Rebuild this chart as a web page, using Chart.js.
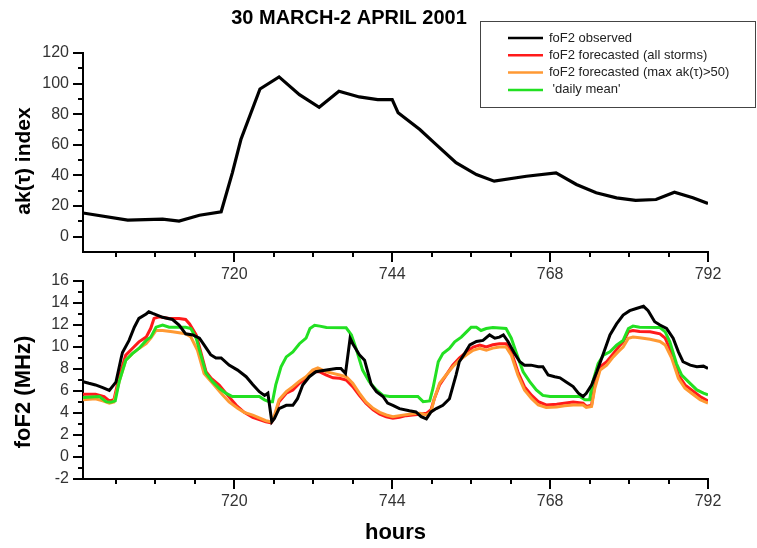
<!DOCTYPE html>
<html><head><meta charset="utf-8">
<script src="https://cdn.jsdelivr.net/npm/chart.js@4/dist/chart.umd.min.js"></script>
<style>
html,body{margin:0;padding:0;background:#fff;width:757px;height:548px;overflow:hidden}
canvas{position:absolute;left:0}
#c1{top:0}
#c2{top:262px}
</style></head><body>
<canvas id="c1" width="757" height="290"></canvas>
<canvas id="c2" width="757" height="286"></canvas>
<script>
// ---------- data ----------
const titleText = '30 MARCH-2 APRIL 2001';
const akTitle = 'ak(\u03C4) index';
const foTitle = 'foF2 (MHz)';
const xTitle = 'hours';

const hourLabels = [720, 744, 768, 792];
const akLabels = [0, 20, 40, 60, 80, 100, 120];
const foLabels = [-2, 0, 2, 4, 6, 8, 10, 12, 14, 16];

const seriesLabels = ['foF2 observed', 'foF2 forecasted (all storms)', 'foF2 forecasted (max ak(\u03C4)>50)', " 'daily mean'"];
const seriesColors = ['#000000', '#ff1a1a', '#ff9933', '#22e022'];

const akHours = [697,703.8,709.1,711.6,714.7,718,719.7,721,723.9,726.8,729.9,732.9,735.9,739,741.8,744,744.9,748.2,750.4,753.7,756.8,759.5,764.4,768.9,772,775,778.1,781,784.1,786.9,789.7,792];
const akValues = [15.5,10.8,11.5,10.2,14,16.3,41.7,63.5,96.5,104.4,92.8,84.5,95,91.3,89.6,89.6,80.9,70,61.3,48.3,40.6,36.3,39.5,41.7,34.1,28.7,25.4,23.7,24.3,29.1,25.4,21.7];

const obsHours = [697.0,697.9,698.9,700.0,701.0,702.0,702.8,703.0,704.0,704.8,
705.5,706.6,707.0,707.6,709.1,710.6,711.6,712.6,713.7,714.7,
715.4,716.4,717.2,718.0,719.2,720.5,721.8,722.8,723.8,724.6,
725.1,725.7,726.1,726.8,727.9,728.9,729.6,730.4,731.4,732.4,
734.0,735.5,736.2,736.9,737.6,738.0,739.0,739.8,740.8,741.6,
742.6,743.3,744.1,745.1,746.6,747.6,748.4,749.2,749.9,750.7,
751.7,752.7,753.7,754.2,755.0,755.8,756.8,757.8,758.8,759.6,
760.3,760.9,761.6,762.6,763.4,764.1,765.1,766.2,766.9,767.7,
768.7,769.5,770.5,771.5,772.3,773.0,773.5,774.3,775.1,776.1,
777.1,778.1,779.1,780.1,781.1,782.2,782.9,783.9,784.7,785.7,
786.7,787.5,788.2,789.3,790.3,791.3,792.0];
const obsValues = [6.85,6.7,6.55,6.3,6.05,6.8,9.0,9.5,10.6,11.8,
12.6,13.0,13.2,13.05,12.7,12.5,12.0,11.2,11.1,10.8,
10.2,9.3,9.0,9.0,8.35,7.9,7.3,6.6,5.94,5.6,
5.8,3.2,3.5,4.4,4.7,4.7,5.3,6.55,7.3,7.75,
7.9,8.05,8.05,7.6,10.8,10.3,9.3,8.8,6.6,5.94,
5.5,4.9,4.7,4.4,4.2,4.1,3.67,3.46,4.1,4.4,
4.7,5.3,7.45,8.66,9.4,10.2,10.5,10.6,11.1,10.8,
10.9,11.1,10.5,9.4,8.66,8.35,8.35,8.2,8.2,7.45,
7.3,7.2,6.8,6.4,5.8,5.5,5.8,6.55,7.75,9.4,
11.1,12.1,12.9,13.3,13.5,13.7,13.3,12.3,12.0,11.7,
10.8,9.56,8.66,8.35,8.2,8.26,8.05];

const allHours = [697.0,698.9,700.2,701.0,701.7,702.5,703.5,704.5,705.5,706.6,
707.3,707.8,708.6,710.1,711.6,712.6,713.2,714.2,714.9,715.7,
716.5,717.7,719.0,720.3,721.5,722.8,723.8,724.8,725.6,726.1,
726.8,727.9,728.9,729.9,730.9,731.9,732.9,734.0,735.0,736.0,
737.0,738.0,739.0,740.0,741.1,742.1,743.1,744.1,745.1,746.1,
747.1,748.2,749.2,749.9,750.4,751.2,752.2,753.2,754.2,755.3,
756.3,757.3,758.3,759.3,760.3,761.3,762.1,763.1,764.1,765.2,
766.2,767.4,769.0,771.5,773.0,773.5,774.3,774.8,775.6,776.6,
777.6,778.4,779.1,779.9,780.6,781.6,783.2,784.7,785.5,786.5,
787.5,788.5,789.5,790.8,792.0];
const allValues = [5.7,5.7,5.5,5.1,5.2,7.3,9.26,9.87,10.47,10.9,
11.7,12.6,12.74,12.6,12.6,12.5,12.1,11.1,9.56,7.75,
7.15,6.55,5.6,4.7,4.06,3.6,3.4,3.2,3.1,3.6,
5.03,5.8,6.1,6.7,7.15,7.75,7.75,7.45,7.2,7.15,
7.0,6.39,5.6,4.9,4.3,3.9,3.66,3.52,3.6,3.76,
3.82,3.88,3.97,4.3,5.3,6.55,7.45,8.35,9.0,9.56,
10.0,10.17,10.0,10.2,10.3,10.3,9.56,7.75,6.39,5.6,
5.03,4.73,4.8,5.0,4.9,4.6,4.7,6.55,8.2,8.66,
9.4,10.0,10.47,11.4,11.5,11.4,11.38,11.2,10.8,9.4,
7.45,6.55,6.1,5.5,5.1];

const maxHours = [697.0,698.9,700.0,701.0,701.7,702.5,703.5,704.5,705.5,706.6,
707.3,708.1,709.1,710.6,712.6,713.4,714.4,715.4,716.7,718.0,
719.2,720.5,721.5,722.8,724.8,725.6,726.1,726.8,727.9,728.9,
729.9,730.9,731.9,732.7,734.0,735.0,736.0,737.0,738.0,739.0,
740.0,741.1,742.1,743.1,744.1,745.1,747.1,748.2,749.2,749.9,
750.4,751.2,752.2,753.2,754.2,755.3,756.3,757.3,758.3,759.3,
760.3,761.3,762.1,763.1,764.1,765.2,766.2,767.4,769.0,770.2,
771.5,773.0,773.5,774.3,774.8,775.6,776.6,777.6,778.4,779.1,
779.9,780.6,781.6,783.2,784.7,785.5,786.5,787.5,788.5,789.5,
790.8,792.0];
const maxValues = [5.2,5.3,5.1,4.9,5.0,6.85,8.8,9.4,9.87,10.3,
10.8,11.5,11.5,11.38,11.2,10.9,9.7,7.6,6.7,5.8,
5.0,4.43,4.06,3.8,3.3,3.2,3.8,5.2,5.94,6.4,
6.9,7.3,7.9,8.1,7.75,7.6,7.45,7.3,6.7,5.8,
5.0,4.43,4.06,3.82,3.66,3.76,3.94,3.97,3.82,4.1,
5.3,6.7,7.45,8.2,8.8,9.3,9.7,9.87,9.7,9.9,
10.0,10.0,9.26,7.45,6.1,5.3,4.73,4.5,4.55,4.65,
4.73,4.73,4.5,4.6,6.25,7.9,8.35,9.1,9.6,10.0,
10.8,10.9,10.84,10.7,10.5,10.17,8.96,7.15,6.25,5.8,
5.2,4.9];

const meanHours = [697.0,699.5,700.5,701.2,701.9,702.5,703.5,704.5,705.5,706.6,
707.3,708.1,709.1,710.1,712.6,713.4,714.2,714.9,715.7,716.7,
717.7,718.7,719.7,723.8,724.6,725.3,725.8,726.3,727.1,727.9,
728.9,729.9,730.9,731.5,732.2,733.0,734.0,737.0,737.8,738.5,
739.5,740.5,741.6,742.6,743.6,747.9,748.7,749.7,750.2,751.0,
751.7,752.7,753.5,754.5,755.3,756.0,756.8,757.5,758.3,759.3,
761.3,762.1,762.9,763.9,764.9,765.9,766.9,768.0,772.5,773.3,
774.0,774.5,775.3,776.1,777.1,778.1,779.1,779.9,780.6,781.6,
784.7,785.5,786.2,787.2,788.0,789.0,790.3,791.3,792.0];
const meanValues = [5.4,5.5,5.03,4.97,5.1,6.85,8.8,9.4,9.87,10.6,
10.9,11.8,12.0,11.8,11.8,11.68,10.8,9.3,7.6,6.85,
6.25,5.8,5.5,5.5,5.2,5.03,5.03,6.55,8.2,9.1,
9.56,10.3,10.8,11.68,11.98,11.9,11.77,11.74,11.1,9.87,
7.9,6.85,6.1,5.6,5.5,5.5,5.03,5.1,6.25,8.66,
9.4,9.87,10.47,10.9,11.38,11.8,11.8,11.5,11.68,11.77,
11.68,10.8,9.4,7.75,6.85,6.1,5.6,5.5,5.5,5.2,
5.2,6.85,8.5,9.26,9.56,10.17,10.6,11.68,11.9,11.8,
11.77,11.38,10.47,8.5,7.45,6.85,6.1,5.8,5.64];

// ---------- helpers ----------
const FONT = '"Liberation Sans", Arial, Helvetica, sans-serif';
const zip = (xs, ys) => xs.map((x, i) => ({x: x, y: ys[i]}));
const range = (a, b, s) => { const r = []; for (let v = a; v <= b + 1e-9; v += s) r.push(v); return r; };
const xTickValues = range(702, 792, 6);
const akTickValues = range(0, 120, 10);
const foTickValues = range(-2, 16, 1);

const tickMarks = {
  id: 'tickMarks',
  afterDraw(chart, args, opts) {
    const ctx = chart.ctx, xs = chart.scales.x, ys = chart.scales.y;
    ctx.save();
    ctx.strokeStyle = '#000';
    ctx.lineWidth = 2;
    xs.ticks.forEach(t => {
      const p = Math.round(xs.getPixelForValue(t.value));
      const len = opts.xMajor.includes(t.value) ? 10 : 5;
      ctx.beginPath(); ctx.moveTo(p, chart.chartArea.bottom); ctx.lineTo(p, chart.chartArea.bottom + len); ctx.stroke();
    });
    ys.ticks.forEach(t => {
      const p = Math.round(ys.getPixelForValue(t.value));
      const len = opts.yMajor.includes(t.value) ? 10 : 5;
      ctx.beginPath(); ctx.moveTo(chart.chartArea.left, p); ctx.lineTo(chart.chartArea.left - len, p); ctx.stroke();
    });
    ctx.restore();
  }
};

const yTitle = {
  id: 'yTitle',
  afterDraw(chart, args, opts) {
    const ctx = chart.ctx;
    ctx.save();
    ctx.translate(opts.x, opts.y);
    ctx.rotate(-Math.PI / 2);
    ctx.font = 'bold ' + opts.size + 'px ' + FONT;
    ctx.fillStyle = '#000';
    ctx.textAlign = 'center';
    ctx.textBaseline = 'alphabetic';
    ctx.fillText(opts.text, 0, 0);
    ctx.restore();
  }
};

const headerAndLegend = {
  id: 'headerAndLegend',
  afterDraw(chart) {
    const ctx = chart.ctx;
    ctx.save();
    ctx.font = 'bold 20px ' + FONT;
    ctx.fillStyle = '#000';
    ctx.textAlign = 'center';
    ctx.textBaseline = 'middle';
    ctx.fillText(titleText, 349, 18);
    // legend box
    ctx.fillStyle = '#fff';
    ctx.fillRect(480.5, 21.5, 275, 86);
    ctx.strokeStyle = '#444';
    ctx.lineWidth = 1;
    ctx.strokeRect(480.5, 21.5, 275, 86);
    ctx.font = '13px ' + FONT;
    ctx.textAlign = 'left';
    seriesLabels.forEach((lab, i) => {
      const y = 38 + i * 17.3;
      ctx.strokeStyle = seriesColors[i];
      ctx.lineWidth = 2.5;
      ctx.beginPath(); ctx.moveTo(508, y); ctx.lineTo(543, y); ctx.stroke();
      ctx.fillStyle = '#222';
      ctx.fillText(lab, 549, y);
    });
    ctx.restore();
  }
};

const tickFont = {size: 16, family: FONT};
function xAxis(height, pad, withTitle) {
  return {
    type: 'linear', min: 697, max: 792,
    afterBuildTicks: s => { s.ticks = xTickValues.map(v => ({value: v})); },
    afterFit: s => { s.height = height; },
    grid: {display: false},
    border: {display: true, color: '#000', width: 2},
    ticks: {autoSkip: false, maxRotation: 0, padding: pad, color: '#333', font: tickFont,
      callback: v => hourLabels.includes(v) ? String(v) : ''},
    title: withTitle ? {display: true, text: xTitle, color: '#000', font: {size: 22, weight: 'bold', family: FONT}, padding: {top: 0, bottom: 2}} : {display: false}
  };
}
function yAxis(min, max, values, labels) {
  return {
    type: 'linear', min: min, max: max,
    afterBuildTicks: s => { s.ticks = values.map(v => ({value: v})); },
    afterFit: s => { s.width = 83; },
    grid: {display: false},
    border: {display: true, color: '#000', width: 2},
    ticks: {autoSkip: false, padding: 6, color: '#333', font: tickFont,
      callback: v => labels.includes(v) ? String(v) : ''}
  };
}

Chart.defaults.font.family = FONT;

new Chart(document.getElementById('c1'), {
  type: 'line',
  data: {datasets: [{
    label: 'ak(\u03C4)', data: zip(akHours, akValues),
    borderColor: '#000', borderWidth: 3.2, pointRadius: 0, tension: 0, fill: false
  }]},
  options: {
    responsive: false, animation: false, devicePixelRatio: 1,
    layout: {padding: {top: 53, right: 49, left: 0, bottom: 0}},
    plugins: {legend: {display: false}, tooltip: {enabled: false},
      tickMarks: {xMajor: hourLabels, yMajor: akLabels},
      yTitle: {text: akTitle, x: 30, y: 161, size: 21}},
    scales: {x: xAxis(38, 5, false), y: yAxis(-10, 120, akTickValues, akLabels)}
  },
  plugins: [tickMarks, yTitle, headerAndLegend]
});

const lineDs = (i, hrs, vals, order) => ({
  label: seriesLabels[i], data: zip(hrs, vals), order: order,
  borderColor: seriesColors[i], borderWidth: 3, pointRadius: 0, tension: 0, fill: false
});

new Chart(document.getElementById('c2'), {
  type: 'line',
  data: {datasets: [
    lineDs(0, obsHours, obsValues, 0),
    lineDs(1, allHours, allValues, 3),
    lineDs(2, maxHours, maxValues, 2),
    lineDs(3, meanHours, meanValues, 1)
  ]},
  options: {
    responsive: false, animation: false, devicePixelRatio: 1,
    layout: {padding: {top: 19, right: 49, left: 0, bottom: 0}},
    plugins: {legend: {display: false}, tooltip: {enabled: false},
      tickMarks: {xMajor: hourLabels, yMajor: foLabels},
      yTitle: {text: foTitle, x: 30, y: 130, size: 22}},
    scales: {x: xAxis(69, 5, true), y: yAxis(-2, 16, foTickValues, foLabels)}
  },
  plugins: [tickMarks, yTitle]
});
</script>
</body></html>
